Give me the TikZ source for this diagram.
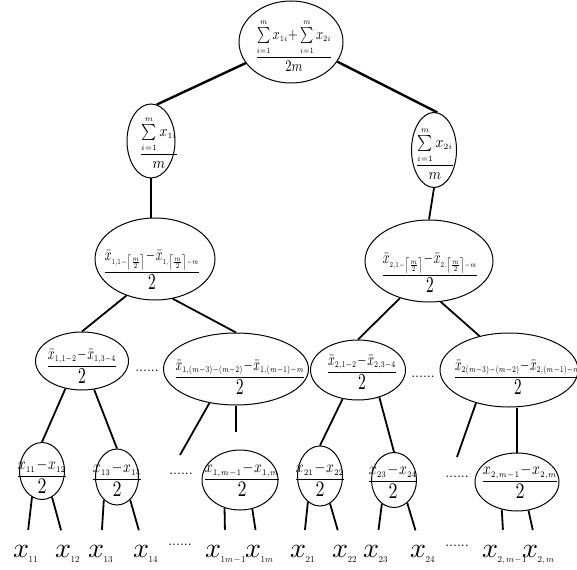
\documentclass[tikz,border=0pt]{standalone}
\usepackage{graphicx}
\usetikzlibrary{shapes.geometric}
\tikzset{
  ell/.style={draw, ellipse, line width=1pt, inner sep=0pt},
  txt/.style={inner sep=0pt, anchor=base},
  conn/.style={line width=1.8pt},
  topconn/.style={line width=2.4pt},
  leafconn/.style={line width=1.8pt, shorten >=15pt},
  leaf/.style={inner sep=0pt, anchor=base west},
  dotsnode/.style={inner sep=0pt},
}
\newcommand{\fr}[4]{\scalebox{#1}[#2]{$\displaystyle\frac{#3}{#4}$}}
\newcommand{\tsub}[1]{{\scriptscriptstyle #1}}
\newcommand{\ssb}[1]{\scalebox{0.88}{$\scriptscriptstyle #1$}}
\newcommand{\two}{\mbox{\scalebox{1.3}{$2$}}}
\newcommand{\mn}{\!-\!}
\newcommand{\sm}{\sum\limits_{\scriptscriptstyle i=1}^{\scriptscriptstyle m}}
\newcommand{\dts}{\scalebox{1.4}{......}}
\newcommand{\lfx}[1]{\scalebox{2.8}{$x$}\kern-0.5pt\raisebox{-5pt}{\scalebox{0.9}{$#1$}}}
\newcommand{\cl}{\left\lceil\frac{m}{2}\right\rceil}
\begin{document}
\begin{tikzpicture}[x=1pt,y=-1pt]
\useasboundingbox (0,0) rectangle (577,569);
% ellipses
\node[ell, minimum width=104pt, minimum height=82pt] (r) at (291,42) {};
\node[ell, minimum width=48pt, minimum height=74pt] (l1) at (151,141) {};
\node[ell, minimum width=45pt, minimum height=75pt] (r1) at (434,150) {};
\node[ell, minimum width=120pt, minimum height=82pt] (l2) at (155,259) {};
\node[ell, minimum width=128pt, minimum height=82pt] (r2) at (429,261) {};
\node[ell, minimum width=93pt, minimum height=58pt] (A) at (82,361) {};
\node[ell, minimum width=145pt, minimum height=72pt] (B) at (236,369) {};
\node[ell, minimum width=95pt, minimum height=60pt] (C) at (358,370) {};
\node[ell, minimum width=138pt, minimum height=74pt] (D) at (509,370) {};
\node[ell, minimum width=45pt, minimum height=57pt] (E1) at (42,471) {};
\node[ell, minimum width=43pt, minimum height=56pt] (E2) at (117,477) {};
\node[ell, minimum width=76pt, minimum height=60pt] (E3) at (240,480) {};
\node[ell, minimum width=45pt, minimum height=60pt] (F1) at (320,476) {};
\node[ell, minimum width=45pt, minimum height=55pt] (F2) at (394,480) {};
\node[ell, minimum width=84pt, minimum height=58pt] (F3) at (517,482) {};
% texts (anchored on baseline = fraction bar + 4pt)
\node[txt] (rt) at (294,61) {\fr{1.25}{1.6}{\sm x_{\tsub{1i}}{+}\sm x_{\tsub{2i}}}{2m}};
\node[txt] (l1t) at (159,158) {\fr{1.43}{1.6}{\sm x_{\tsub{1i}}}{m}};
\node[txt] (r1t) at (435,169) {\fr{1.43}{1.6}{\sm x_{\tsub{2i}}}{m}};
\node[txt] (l2t) at (152,277) {\fr{1.18}{1.75}{\bar{x}_{\ssb{1,1-\cl}}\mn\bar{x}_{\ssb{1,\cl-m}}}{\two}};
\node[txt] (r2t) at (430,280) {\fr{1.18}{1.75}{\bar{x}_{\ssb{2,1-\cl}}\mn\bar{x}_{\ssb{2,\cl-m}}}{\two}};
\node[txt] (At) at (82,371) {\fr{1.19}{1.75}{\bar{x}_{\tsub{1,1-2}}\mn\bar{x}_{\tsub{1,3-4}}}{\two}};
\node[txt] (Bt) at (240,382) {\fr{1.16}{1.75}{\bar{x}_{\tsub{1,(m-3)-(m-2)}}\mn\bar{x}_{\tsub{1,(m-1)-m}}}{\two}};
\node[txt] (Ct) at (362,377) {\fr{1.19}{1.75}{\bar{x}_{\tsub{2,1-2}}\mn\bar{x}_{\tsub{2,3-4}}}{\two}};
\node[txt] (Dt) at (518,382) {\fr{1.16}{1.75}{\bar{x}_{\tsub{2(m-3)-(m-2)}}\mn\bar{x}_{\tsub{2,(m-1)-m}}}{\two}};
\node[txt] (E1t) at (42,481) {\fr{1.38}{1.7}{x_{\tsub{11}}\mn x_{\tsub{12}}}{\two}};
\node[txt] (E2t) at (117,484) {\fr{1.38}{1.7}{x_{\tsub{13}}\mn x_{\tsub{14}}}{\two}};
\node[txt] (E3t) at (242,484) {\fr{1.38}{1.7}{x_{\tsub{1,m-1}}\mn x_{\tsub{1,m}}}{\two}};
\node[txt] (F1t) at (320,484) {\fr{1.38}{1.7}{x_{\tsub{21}}\mn x_{\tsub{22}}}{\two}};
\node[txt] (F2t) at (393,486) {\fr{1.38}{1.7}{x_{\tsub{23}}\mn x_{\tsub{24}}}{\two}};
\node[txt] (F3t) at (520,486) {\fr{1.38}{1.7}{x_{\tsub{2,m-1}}\mn x_{\tsub{2,m}}}{\two}};
% dots
\node[dotsnode] (d3l) at (147,371) {\dts};
\node[dotsnode] (d3r) at (423,377) {\dts};
\node[dotsnode] (d4l) at (181,474) {\dts};
\node[dotsnode] (d4r) at (457,477) {\dts};
\node[dotsnode] (d5l) at (180,545) {\dts};
\node[dotsnode] (d5r) at (457,546) {\dts};
% leaves
\node[leaf] (x11) at (13,557) {\lfx{11}};
\node[leaf] (x12) at (55,557) {\lfx{12}};
\node[leaf] (x13) at (88,557) {\lfx{13}};
\node[leaf] (x14) at (133,557) {\lfx{14}};
\node[leaf] (x1m1) at (205,557) {\lfx{1m\!-\!1}};
\node[leaf] (x1m) at (245,557) {\lfx{1m}};
\node[leaf] (x21) at (290,557) {\lfx{21}};
\node[leaf] (x22) at (332,557) {\lfx{22}};
\node[leaf] (x23) at (363,557) {\lfx{23}};
\node[leaf] (x24) at (410,557) {\lfx{24}};
\node[leaf] (x2m1) at (482,557) {\lfx{2,m\!-\!1}};
\node[leaf] (x2m) at (522,557) {\lfx{2,m}};
% connectors
\draw[topconn] (r.205) -- (l1.81);
\draw[topconn] (r.-23) -- (r1.85);
\draw[conn] (l1.south) -- (l1.south |- l2.north);
\draw[conn] (r1.south) -- (r2.north);
\draw[conn] (l2.232) -- (A.north);
\draw[conn] (l2.-66) -- (B.north);
\draw[conn] (r2.232) -- (C.north);
\draw[conn] (r2.-74) -- (D.131);
\draw[conn] (A.239) -- (E1.north);
\draw[conn] (A.-67) -- (E2.north);
\coordinate (bfree) at (180,455);
\draw[conn] (B.232) -- (bfree);
\coordinate (bvert) at (236,432);
\draw[conn] (B.south) -- (bvert);
\draw[conn] (C.242) -- (F1.north);
\draw[conn] (C.-52) -- (F2.north);
\coordinate (dfree) at (457,457);
\draw[conn] (D.225) -- (dfree);
\draw[conn] (F3.north) -- (F3.north |- D.south);
% leaf connectors
\draw[leafconn] (E1.249) -- (x11);
\draw[leafconn] (E1.291) -- (x12);
\draw[leafconn] (E2.240) -- (x13);
\draw[leafconn] (E2.300) -- (x14);
\draw[leafconn] (E3.241) -- (x1m1);
\draw[leafconn] (E3.-67) -- (x1m);
\draw[leafconn] (F1.245) -- (x21);
\draw[leafconn] (F1.-70) -- (x22);
\draw[leafconn] (F2.243) -- (x23);
\draw[leafconn] (F2.-60) -- (x24);
\draw[leafconn] (F3.241) -- (x2m1);
\draw[leafconn] (F3.-68) -- (x2m);
\end{tikzpicture}
\end{document}
